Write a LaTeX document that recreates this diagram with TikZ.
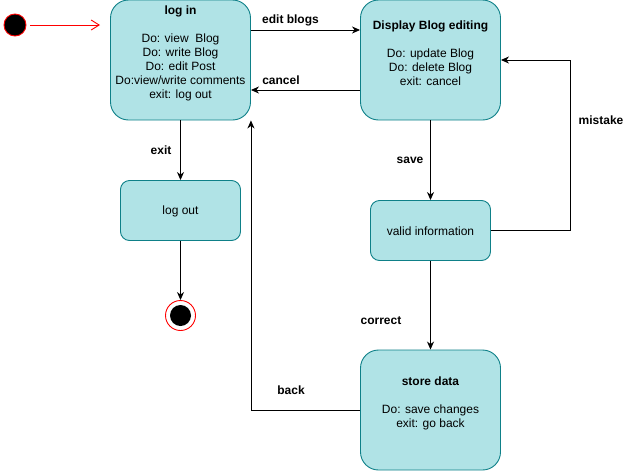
\documentclass[tikz,border=0pt]{standalone}
\usepackage{fontspec}
\setmainfont{Liberation Sans}
\usetikzlibrary{arrows.meta,calc}
\definecolor{stfill}{HTML}{B0E3E6}
\definecolor{stdraw}{HTML}{0E8088}
\begin{document}
\begin{tikzpicture}[x=1pt,y=-1pt,
  statebox/.style={draw=stdraw,fill=stfill,line width=0.9pt,inner sep=0pt},
  txt/.style={font=\fontsize{12}{14}\selectfont,align=center,inner sep=0pt},
  lbl/.style={font=\fontsize{12}{14}\selectfont\bfseries,inner sep=0pt},
  arr/.style={draw=black,line width=0.9pt,-{Stealth[length=8pt,width=7pt,inset=2.5pt]}}
]
\useasboundingbox (0,0) rectangle (632,472);
% states
\node[statebox,minimum width=140pt,minimum height=120pt,rounded corners=18pt] (login) at (180.5,60) {};
\node[statebox,minimum width=140pt,minimum height=120pt,rounded corners=18pt] (disp) at (430.5,60) {};
\node[statebox,minimum width=120pt,minimum height=60pt,rounded corners=9pt] (logout) at (180.5,210.5) {};
\node[statebox,minimum width=120pt,minimum height=60pt,rounded corners=9pt] (valid) at (430.5,230.5) {};
\node[statebox,minimum width=140pt,minimum height=120pt,rounded corners=18pt] (store) at (430.5,410) {};
% texts
\node[txt] (logintxt) at (180.5,53) {\textbf{log in}\\[14pt]Do: view\ \ Blog\\Do: write Blog\\Do: edit Post\\Do:view/write comments\\exit: log out};
\node[txt] (disptxt) at (430.5,53.5) {\textbf{Display Blog editing}\\[14pt]Do: update Blog\\Do: delete Blog\\exit: cancel};
\node[txt] (logouttxt) at (180.5,211) {log out};
\node[txt] (validtxt) at (430.5,231) {valid information};
\node[txt] (storetxt) at (430.5,403) {\textbf{store data}\\[14pt]Do: save changes\\exit: go back};
% initial and final
\node[circle,draw=red,fill=black,line width=0.9pt,minimum size=22pt,inner sep=0pt] (init) at (15,25) {};
\node[circle,draw=red,fill=white,line width=0.9pt,minimum size=30pt,inner sep=0pt] (final) at (180.5,315.5) {};
\node[circle,fill=black,minimum size=21pt,inner sep=0pt] (finalin) at (180.5,315.5) {};
\coordinate (initend) at (100,25);
\coordinate (mk) at (570.5,60);
% connectors
\draw[draw=red,line width=0.9pt,-{Straight Barb[length=8pt,width=10pt]},shorten <=4pt] (init) -- (initend);
\draw[arr] ([yshift=30pt]login.east) -- ([yshift=30pt]disp.west);
\draw[arr] ([yshift=-30pt]disp.west) -- ([yshift=-30pt]login.east);
\draw[arr] (login.south) -- (logout.north);
\draw[arr] (logout.south) -- (final.north);
\draw[arr] (disp.south) -- (valid.north);
\draw[arr] (valid.east) -| (mk) -- (disp.east);
\draw[arr] (valid.south) -- (store.north);
\draw[arr] (store.west) -| (login.south east);
% labels
\node[lbl] (l1) at (290.5,20) {edit blogs};
\node[lbl] (l2) at (281,80) {cancel};
\node[lbl] (l3) at (161,150) {exit};
\node[lbl] (l4) at (410,160) {save};
\node[lbl] (l5) at (601,120) {mistake};
\node[lbl] (l6) at (381,321) {correct};
\node[lbl] (l7) at (291,390) {back};
\end{tikzpicture}
\end{document}
